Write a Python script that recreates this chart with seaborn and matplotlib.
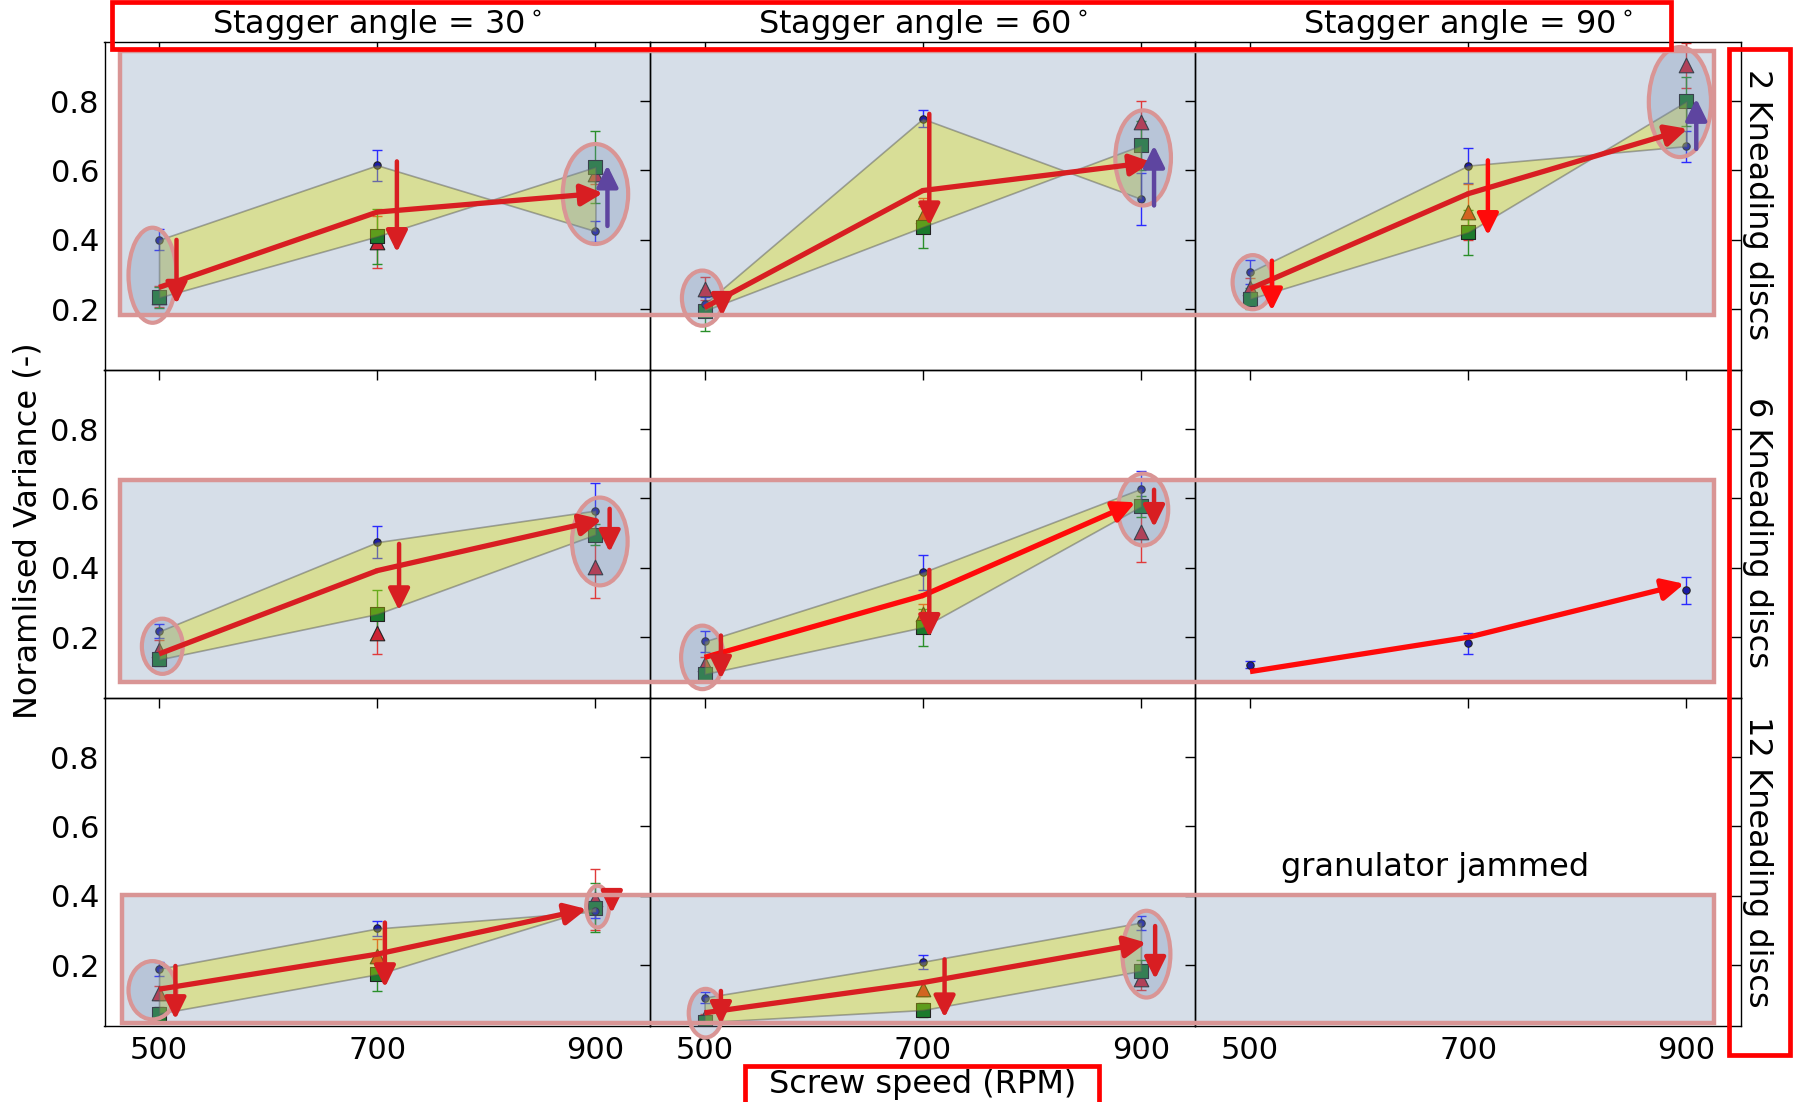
import matplotlib
matplotlib.use("Agg")
import matplotlib.pyplot as plt
import numpy as np
import pandas as pd
import seaborn as sns
from matplotlib.patches import Rectangle, Ellipse

# ---------------------------------------------------------------------------
# Data: normalised variance vs. screw speed, rows = kneading discs,
# columns = stagger angle.  None = no measurement.
# ---------------------------------------------------------------------------
speeds = [500, 700, 900]
angles = [30, 60, 90]
discs = [2, 6, 12]

circle_var = [
    [[0.40, 0.615, 0.425], [0.215, 0.749, 0.518], [0.307, 0.614, 0.670]],
    [[0.217, 0.474, 0.565], [0.188, 0.387, 0.628], [0.121, 0.183, 0.335]],
    [[0.190, 0.306, 0.355], [0.107, 0.210, 0.323], None],
]
circle_err = [
    [[0.03, 0.045, 0.03], [0.02, 0.025, 0.075], [0.035, 0.05, 0.045]],
    [[0.02, 0.047, 0.08], [0.03, 0.05, 0.05], [0.01, 0.03, 0.04]],
    [[0.02, 0.022, 0.02], [0.015, 0.02, 0.02], None],
]
square_var = [
    [[0.234, 0.410, 0.610], [0.196, 0.437, 0.672], [0.230, 0.422, 0.799]],
    [[0.136, 0.267, 0.496], [0.094, 0.229, 0.577], None],
    [[0.061, 0.174, 0.366], [0.036, 0.071, 0.184], None],
]
square_err = [
    [[0.03, 0.08, 0.105], [0.06, 0.06, 0.07], [0.03, 0.065, 0.07]],
    [[0.02, 0.07, 0.03], [0.02, 0.053, 0.03], None],
    [[0.02, 0.048, 0.07], [0.01, 0.02, 0.03], None],
]
triangle_var = [
    [[0.236, 0.395, 0.590], [0.259, 0.470, 0.739], [0.260, 0.480, 0.903]],
    [[0.162, 0.212, 0.402], [0.123, 0.267, 0.503], None],
    [[0.121, 0.227, 0.390], [0.050, 0.131, 0.160], None],
]
triangle_err = [
    [[0.03, 0.075, 0.03], [0.033, 0.05, 0.06], [0.03, 0.08, 0.065]],
    [[0.03, 0.06, 0.09], [0.02, 0.03, 0.087], None],
    [[0.02, 0.05, 0.087], [0.01, 0.02, 0.03], None],
]

# Overall trend per panel: level at 500, 700 and at the arrow tip, tip speed
trend_levels = [
    [[0.263, 0.480, 0.535], [0.205, 0.542, 0.624], [0.259, 0.533, 0.720]],
    [[0.152, 0.392, 0.539], [0.142, 0.320, 0.589], [0.101, 0.200, 0.354]],
    [[0.131, 0.232, 0.362], [0.063, 0.150, 0.265], None],
]
trend_tip_speed = [
    [907, 910, 901],
    [906, 895, 898],
    [892, 905, None],
]
# Decreasing-variance markers: (speed, from, to)
down_marks = [
    [[(516, 0.40, 0.215), (718, 0.626, 0.364)],
     [(516, 0.24, 0.18), (706, 0.763, 0.441)],
     [(520, 0.34, 0.196), (718, 0.629, 0.413)]],
    [[(720, 0.469, 0.277), (913, 0.57, 0.445)],
     [(515, 0.205, 0.08), (706, 0.394, 0.20), (912, 0.625, 0.517)],
     []],
    [[(515, 0.198, 0.044), (707, 0.323, 0.136), (915, 0.39, 0.35)],
     [(515, 0.126, 0.03), (720, 0.217, 0.049), (913, 0.313, 0.16)],
     []],
]
# Increasing-variance markers at top speed: (speed, from, to)
up_marks = [
    [[(911, 0.44, 0.615)], [(912, 0.499, 0.672)], [(909, 0.662, 0.807)]],
    [[], [], []],
    [[], [], []],
]
# Highlighted groups: (speed, level, width in rpm, height)
highlights = [
    [[(494, 0.298, 44, 0.274), (900, 0.532, 60, 0.288)],
     [(498, 0.232, 37.5, 0.159), (902, 0.636, 51, 0.274)],
     [(502.5, 0.278, 37, 0.156), (894, 0.797, 57, 0.317)]],
    [[(503, 0.174, 37.5, 0.159), (904, 0.476, 51, 0.253)],
     [(498, 0.142, 39, 0.183), (902, 0.568, 46, 0.207)],
     []],
    [[(494, 0.128, 44, 0.168), (902, 0.369, 21, 0.12)],
     [(501, 0.062, 31, 0.14), (905, 0.232, 44, 0.25)],
     []],
]

# ---------------------------------------------------------------------------
W, H = 1793, 1102
FS = 22
FS_TXT = 23
CRIMSON = "#d81e22"
BRIGHT = "#ff0a0a"
PURPLE = "#5e45a0"
ROSE = "#d99595"

sns.set_style("white")
plt.rcParams["font.family"] = ["DejaVu Sans"]
plt.rcParams["font.size"] = FS
plt.rcParams["mathtext.default"] = "regular"
plt.rcParams["text.color"] = "black"
plt.rcParams["axes.labelcolor"] = "black"
plt.rcParams["xtick.color"] = "black"
plt.rcParams["ytick.color"] = "black"

fig, axes = plt.subplots(3, 3, figsize=(W / 100, H / 100), dpi=100,
                         sharex=True, sharey=True)
fig.subplots_adjust(left=104.5 / W, right=1741 / W, top=1 - 42 / H,
                    bottom=1 - 1026 / H, wspace=0, hspace=0)


def fx(px):
    return px / W


def fy(py):
    return 1 - py / H


# shaded bands behind each row of panels
row_bands = [(120, 51, 1714, 315), (120, 480, 1714, 682), (122, 895, 1714, 1023)]
for x0, y0, x1, y1 in row_bands:
    fig.add_artist(Rectangle((fx(x0), fy(y1)), fx(x1) - fx(x0), fy(y0) - fy(y1),
                             transform=fig.transFigure, facecolor="#d6dee8",
                             edgecolor="none", zorder=-1))
    fig.add_artist(Rectangle((fx(x0), fy(y1)), fx(x1) - fx(x0), fy(y0) - fy(y1),
                             transform=fig.transFigure, fill=False,
                             edgecolor=ROSE, lw=3.2, zorder=1))


def draw_arrow(ax, x0, y0, x1, y1, color, lw=3.2):
    ax.annotate("", xy=(x1, y1), xytext=(x0, y0), zorder=6,
                annotation_clip=False,
                arrowprops=dict(arrowstyle="-|>,head_length=0.65,head_width=0.32",
                                mutation_scale=20, lw=lw, color=color,
                                shrinkA=0, shrinkB=0))


# drawn in this order: triangles sit beneath squares, circles on top
series_styles = [
    ("triangle", triangle_var, triangle_err, "^", "#cc2233", "#e03a3a", 110),
    ("square", square_var, square_err, "s", "#1b7a2c", "#2a8f2a", 90),
    ("circle", circle_var, circle_err, "o", "#1a1aa8", "#2a2aff", 28),
]

for r in range(3):
    for c in range(3):
        ax = axes[r, c]
        ax.set_facecolor("none")
        for name, var, err, mk, col, ecol, size in series_styles:
            vals = var[r][c]
            if vals is None:
                continue
            ax.errorbar(speeds, vals, yerr=err[r][c], fmt="none", ecolor=ecol,
                        elinewidth=1.0, capsize=3.5, capthick=1.0, zorder=2)
            df = pd.DataFrame({"speed": speeds, "variance": vals})
            sns.scatterplot(data=df, x="speed", y="variance", ax=ax, marker=mk,
                            color=col, s=size, edgecolor="#222222",
                            linewidth=0.8, zorder=2.5)
        if circle_var[r][c] is not None and square_var[r][c] is not None:
            ax.fill_between(speeds, circle_var[r][c], square_var[r][c],
                            facecolor=(0.87, 0.88, 0.0, 0.35),
                            edgecolor=(0.3, 0.3, 0.3, 0.45), lw=1.2, zorder=3)

        for (ex, ey, ew, eh) in highlights[r][c]:
            ax.add_patch(Ellipse((ex, ey), ew, eh, facecolor=(0.45, 0.55, 0.70, 0.3),
                                 edgecolor=ROSE, lw=3.0, zorder=4, clip_on=False))

        lv = trend_levels[r][c]
        if lv is not None:
            tcol = BRIGHT if (r, c) in [(1, 1), (1, 2)] else CRIMSON
            ax.plot([speeds[0], speeds[1]], [lv[0], lv[1]], color=tcol, lw=3.8,
                    solid_capstyle="butt", zorder=6, clip_on=False)
            draw_arrow(ax, speeds[1], lv[1], trend_tip_speed[r][c], lv[2], tcol, lw=3.8)

        dcol = BRIGHT if (r, c) == (0, 2) else CRIMSON
        for (dx, d0, d1) in down_marks[r][c]:
            draw_arrow(ax, dx, d0, dx, d1, dcol)
        for (ux, u0, u1) in up_marks[r][c]:
            draw_arrow(ax, ux, u0, ux, u1, PURPLE)

        ax.set_xlim(450, 950)
        ax.set_ylim(0.025, 0.97)
        ax.set_xticks(speeds)
        ax.set_yticks([0.2, 0.4, 0.6, 0.8])
        ax.set_xlabel("")
        ax.set_ylabel("")
        ax.tick_params(direction="in", top=True, right=True, length=7, width=1,
                       colors="k", labelsize=FS)
        ax.tick_params(axis="y", pad=4)
        ax.tick_params(axis="x", pad=7)
        for sp in ax.spines.values():
            sp.set_color("k")
            sp.set_linewidth(1.0)

for c, a in enumerate(angles):
    axes[0, c].set_title(f"Stagger angle = ${a}^\\circ$", fontsize=FS_TXT, pad=5)

row_centres = [205, 532.5, 861.5]
for d, yc in zip(discs, row_centres):
    fig.text(fx(1757), fy(yc), f"{d} Kneading discs", rotation=270,
             ha="center", va="center", fontsize=FS_TXT)

fig.text(fx(28), fy(531), "Noramlised Variance (-)", rotation=90,
         ha="center", va="center", fontsize=FS_TXT)
axes[2, 1].set_xlabel("Screw speed (RPM)", fontsize=FS_TXT, labelpad=3)
axes[2, 2].text(670, 0.482, "granulator jammed", ha="center", va="center",
                fontsize=FS_TXT)

# red frames around the headings and axis captions
frames = [(112, 2, 1671, 49), (1729, 49, 1790, 1055), (745, 1066, 1099, 1110)]
for x0, y0, x1, y1 in frames:
    fig.add_artist(Rectangle((fx(x0), fy(y1)), fx(x1) - fx(x0), fy(y0) - fy(y1),
                             transform=fig.transFigure, fill=False,
                             edgecolor="#ff0000", lw=3.4, zorder=2, clip_on=False))

fig.savefig("out.png", dpi=100)
